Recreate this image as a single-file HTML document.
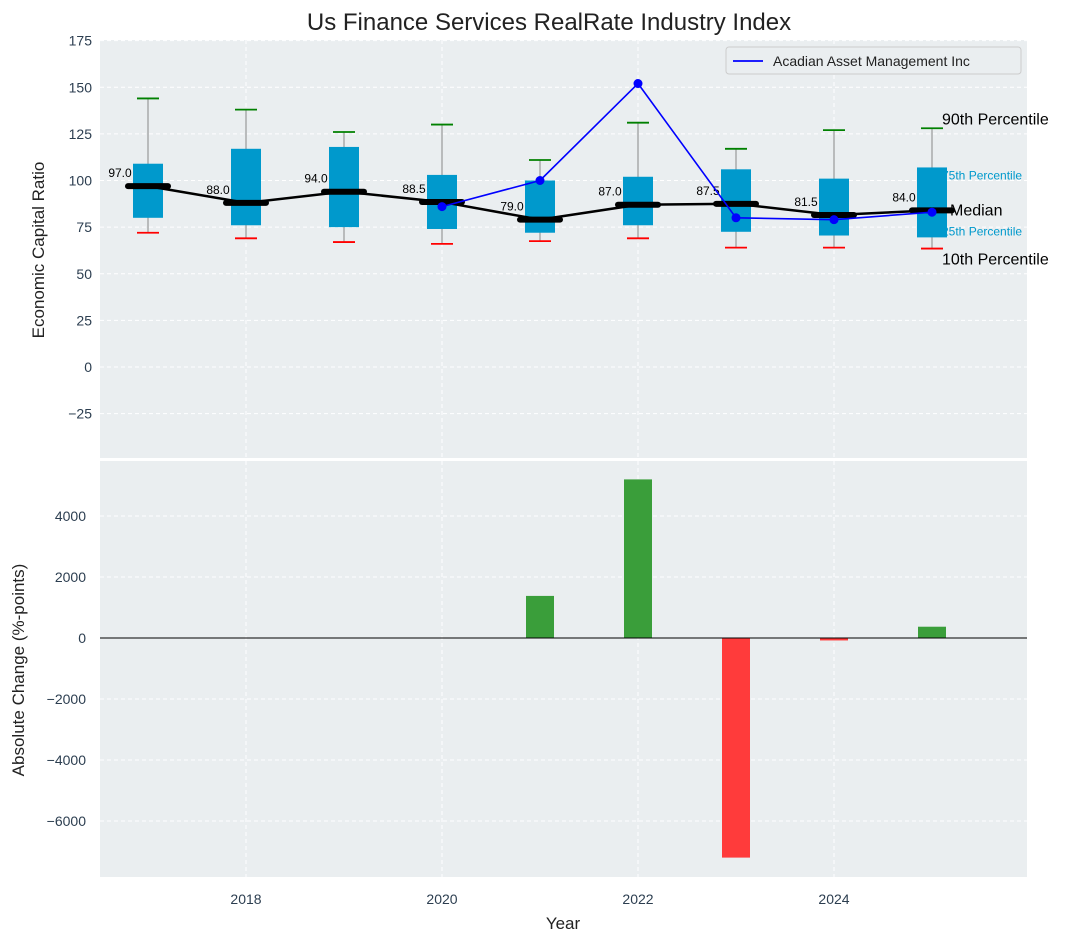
<!DOCTYPE html>
<html><head><meta charset="utf-8"><style>
body{margin:0;background:#fff;}
svg{font-family:"Liberation Sans","DejaVu Sans",sans-serif;}
</style></head><body>
<svg id="c" width="1077" height="942">
<text x="549" y="30" font-size="24" text-anchor="middle" fill="#222">Us Finance Services RealRate Industry Index</text>
<rect x="100" y="40" width="927" height="418" fill="#eaeef0"/>
<rect x="100" y="461" width="927" height="416" fill="#eaeef0"/>
<g id="g"></g>
<text x="44" y="250" font-size="17" text-anchor="middle" fill="#222" transform="rotate(-90 44 250)">Economic Capital Ratio</text>
<text x="24" y="670" font-size="17" text-anchor="middle" fill="#222" transform="rotate(-90 24 670)">Absolute Change (%-points)</text>
<text x="563" y="929" font-size="17" text-anchor="middle" fill="#222">Year</text>
<g>
<rect x="726" y="47" width="295" height="27" rx="3" fill="#eaeef0" stroke="#ccc"/>
<line x1="733" y1="61" x2="763" y2="61" stroke="blue" stroke-width="1.8"/>
<text x="773" y="66" font-size="14" fill="#222">Acadian Asset Management Inc</text>
</g>
</svg>
<script>
const years=[2017,2018,2019,2020,2021,2022,2023,2024,2025];
const p10=[72,69,67,66,67.5,69,64,64,63.5];
const p25=[80,76,75,74,72,76,72.5,70.5,69.5];
const med=[97,88,94,88.5,79,87,87.5,81.5,84];
const p75=[109,117,118,103,100,102,106,101,107];
const p90=[144,138,126,130,111,131,117,127,128];
const compYears=[2020,2021,2022,2023,2024,2025];
const compVals=[86,100,152,80,79,83];
const barYears=[2021,2022,2023,2024,2025];
const barVals=[1380,5200,-7200,-80,370];
const topTicks=[-25,0,25,50,75,100,125,150,175];
const botTicks=[-6000,-4000,-2000,0,2000,4000];
const xTicks=[2018,2020,2022,2024];
const NS="http://www.w3.org/2000/svg";
const g=document.getElementById('g');
const X=v=>148+(v-2017)*98;
const Y1=v=>367-v*1.865;
const Y2=v=>638-v*0.0305;
function mk(t,a,p){const e=document.createElementNS(NS,t);for(const k in a)e.setAttribute(k,a[k]);(p||g).appendChild(e);return e;}
function tx(x,y,s,sz,fill,anchor){const e=mk('text',{x:x,y:y,'font-size':sz,fill:fill,'text-anchor':anchor||'start'});e.textContent=s;return e;}
topTicks.forEach(v=>{const l=mk('line',{x1:100,x2:1027,y1:Y1(v),y2:Y1(v),stroke:'#fff','stroke-dasharray':'4,3'});


const t=tx(92,Y1(v)+5,v<0?'\u2212'+(-v):String(v),14,'#2c3e50','end');

});
botTicks.forEach(v=>{const l=mk('line',{x1:100,x2:1027,y1:Y2(v),y2:Y2(v),stroke:'#fff','stroke-dasharray':'4,3'});


const t=tx(86,Y2(v)+5,v<0?'\u2212'+(-v):String(v),14,'#2c3e50','end');

});
xTicks.forEach(v=>{mk('line',{x1:X(v),x2:X(v),y1:40,y2:458,stroke:'#fff','stroke-dasharray':'4,3'});
mk('line',{x1:X(v),x2:X(v),y1:461,y2:877,stroke:'#fff','stroke-dasharray':'4,3'});
const t=tx(X(v),904,String(v),14,'#2c3e50','middle');

});
years.forEach((y,i)=>{const x=X(y);
mk('line',{x1:x,x2:x,y1:Y1(p10[i]),y2:Y1(p90[i]),stroke:'#888','stroke-width':1});
mk('line',{x1:x-11,x2:x+11,y1:Y1(p90[i]),y2:Y1(p90[i]),stroke:'green','stroke-width':1.8});
mk('line',{x1:x-11,x2:x+11,y1:Y1(p10[i]),y2:Y1(p10[i]),stroke:'red','stroke-width':1.8});
const b=mk('rect',{x:x-15,y:Y1(p75[i]),width:30,height:Y1(p25[i])-Y1(p75[i]),fill:'#0099cc'});


mk('line',{x1:x-20,x2:x+20,y1:Y1(med[i]),y2:Y1(med[i]),stroke:'#000','stroke-width':6,'stroke-linecap':'round'});
const t=tx(x-28,Y1(med[i])-9,med[i].toFixed(1),12,'#000','middle');

});
const ml=mk('polyline',{points:years.map((y,i)=>X(y)+','+Y1(med[i])).join(' '),fill:'none',stroke:'#000','stroke-width':2.5});


const cl=mk('polyline',{points:compYears.map((y,i)=>X(y)+','+Y1(compVals[i])).join(' '),fill:'none',stroke:'blue','stroke-width':1.6});


compYears.forEach((y,i)=>{const c=mk('circle',{cx:X(y),cy:Y1(compVals[i]),r:4.5,fill:'blue'});

});
const L=years.length-1;
tx(942,Y1(p90[L])-4,'90th Percentile',16,'#000');
tx(942,Y1(p75[L])+12,'75th Percentile',12,'#0099cc');
tx(950,Y1(med[L])+5,'Median',16,'#000');
tx(942,Y1(p25[L])-2,'25th Percentile',12,'#0099cc');
tx(942,Y1(p10[L])+16,'10th Percentile',16,'#000');
barYears.forEach((y,i)=>{const v=barVals[i];const b=mk('rect',{x:X(y)-14,y:Math.min(Y2(v),Y2(0)),width:28,height:Math.abs(Y2(v)-Y2(0)),fill:v>=0?'#3a9e3a':'#ff3b3b'});

});
mk('line',{x1:100,x2:1027,y1:Y2(0),y2:Y2(0),stroke:'#000','stroke-width':1});
</script>
</body></html>
